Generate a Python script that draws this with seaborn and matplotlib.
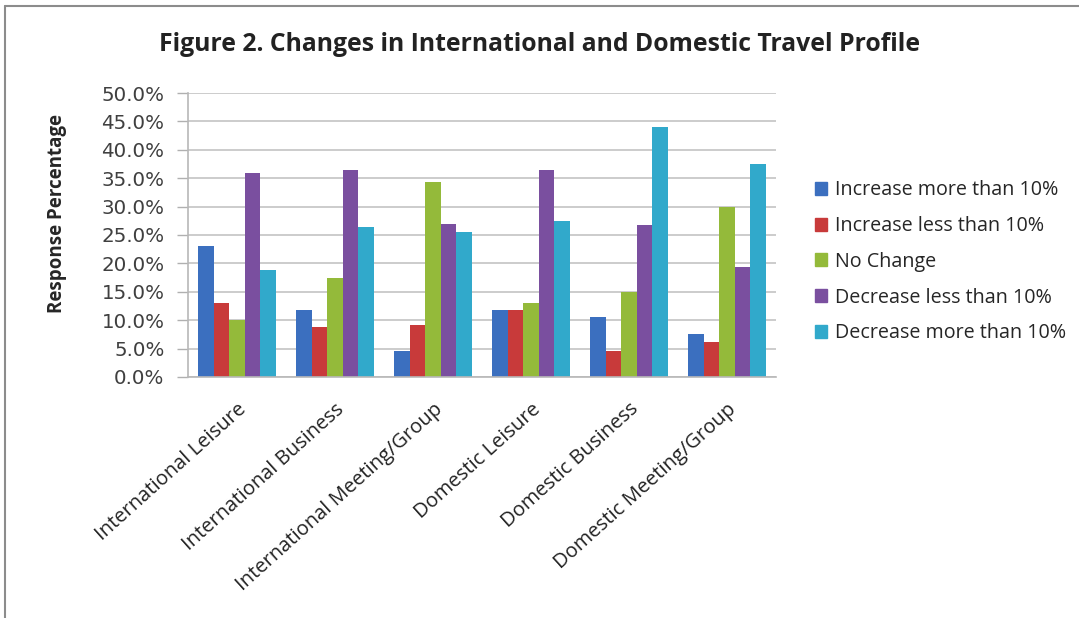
import pandas as pd
import matplotlib.pyplot as plt
import matplotlib.lines as mlines
import seaborn as sns

# ----- data -----
categories = ['International Leisure', 'International Business',
              'International Meeting/Group', 'Domestic Leisure',
              'Domestic Business', 'Domestic Meeting/Group']
series = ['Increase more than 10%', 'Increase less than 10%', 'No Change',
          'Decrease less than 10%', 'Decrease more than 10%']
inc_more = [23.0, 11.8, 4.6, 11.8, 10.5, 7.5]
inc_less = [13.1, 8.8, 9.1, 11.8, 4.6, 6.1]
no_change = [10.1, 17.5, 34.4, 13.1, 14.9, 30.0]
dec_less = [35.9, 36.5, 26.9, 36.5, 26.7, 19.4]
dec_more = [18.8, 26.4, 25.5, 27.5, 44.1, 37.5]
yticks = [0, 5, 10, 15, 20, 25, 30, 35, 40, 45, 50]

my_pal = {'Increase more than 10%': '#3b6fbf',
          'Increase less than 10%': '#c83a3a',
          'No Change': '#94ba3a',
          'Decrease less than 10%': '#7a4f9f',
          'Decrease more than 10%': '#31a9cb'}

rows = []
for s, vals in zip(series, [inc_more, inc_less, no_change, dec_less, dec_more]):
  for c, v in zip(categories, vals):
    rows.append({'Category': c, 'Change': s, 'Pct': v})
df = pd.DataFrame(rows)

sns.set_style('white')
label_font = ['Open Sans', 'DejaVu Sans']

fig = plt.figure(figsize=(10.79, 6.18), dpi=100)
ax = fig.add_axes([188 / 1079, 0.390, 588 / 1079, 0.8495 - 0.390])

sns.barplot(data=df, x='Category', y='Pct', hue='Change', order=categories,
            hue_order=series, palette=my_pal, width=0.79, saturation=1,
            linewidth=0, ax=ax, legend=True)

ax.set_ylim(0, 50)
ax.set_yticks(yticks)
ax.set_yticklabels([f'{t:.1f}%' for t in yticks], fontsize=14.3, color='#404040')
ax.yaxis.grid(True, color='#c4c4c4', linewidth=1.2)
ax.set_axisbelow(True)
ax.tick_params(axis='y', length=8, width=1, color='#b0b0b0', pad=9, left=True)
ax.tick_params(axis='x', length=0, pad=16)
for side in ['top', 'right']:
  ax.spines[side].set_visible(False)
for side in ['left', 'bottom']:
  ax.spines[side].set_color('#b8b8b8')
  ax.spines[side].set_linewidth(1.2)

ax.set_xticks(range(len(categories)))
ax.set_xticklabels(categories, rotation=42, ha='right', rotation_mode='anchor',
                   fontsize=14.5, family=label_font, color='#222222')
ax.set_xlabel('')
ax.set_ylabel('Response Percentage', fontsize=13.5, fontweight='bold',
              family=label_font)
ax.yaxis.set_label_coords(-0.206, 0.574)

ax.get_legend().remove()
handles = [plt.Rectangle((0, 0), 1, 1, color=my_pal[s]) for s in series]
fig.legend(handles, series, loc='upper left', bbox_to_anchor=(0.7385, 0.737),
           frameon=False, handlelength=0.65, handleheight=0.65, handletextpad=0.4,
           labelspacing=0.8, prop={'family': label_font, 'size': 14.2})

fig.suptitle('Figure 2. Changes in International and Domestic Travel Profile',
             x=0.5, y=0.948, fontsize=17.8, fontweight='bold', family=label_font,
             color='#222222')

# outer chart frame
fig.add_artist(mlines.Line2D([5 / 1079, 1], [1 - 6 / 618, 1 - 6 / 618], color='#8c8c8c', lw=1.5))
fig.add_artist(mlines.Line2D([5 / 1079, 5 / 1079], [0, 1 - 6 / 618], color='#8c8c8c', lw=1.5))

plt.savefig('out.png', dpi=100)
plt.close(fig)
